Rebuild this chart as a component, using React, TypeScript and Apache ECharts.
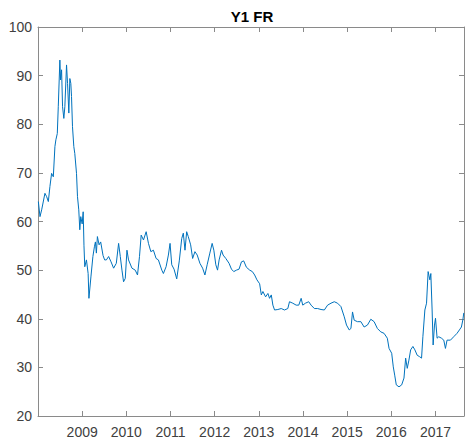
import React, { useEffect, useRef } from "react";
import * as echarts from "echarts";

const years = [
  2008.008, 2008.045, 2008.083, 2008.157, 2008.196, 2008.234, 2008.270, 2008.308, 2008.347, 2008.383,
  2008.405, 2008.437, 2008.459, 2008.495, 2008.511, 2008.534, 2008.556, 2008.585, 2008.608, 2008.646,
  2008.669, 2008.698, 2008.721, 2008.743, 2008.759, 2008.781, 2008.811, 2008.833, 2008.872, 2008.894,
  2008.923, 2008.946, 2008.968, 2009.000, 2009.023, 2009.041, 2009.059, 2009.097, 2009.135, 2009.153,
  2009.198, 2009.243, 2009.277, 2009.300, 2009.322, 2009.345, 2009.383, 2009.419, 2009.473, 2009.509,
  2009.548, 2009.599, 2009.654, 2009.712, 2009.773, 2009.825, 2009.863, 2009.901, 2009.937, 2009.976,
  2010.014, 2010.050, 2010.127, 2010.201, 2010.253, 2010.298, 2010.336, 2010.388, 2010.449, 2010.501,
  2010.555, 2010.613, 2010.674, 2010.726, 2010.803, 2010.839, 2010.900, 2010.952, 2010.990, 2011.028,
  2011.080, 2011.141, 2011.199, 2011.254, 2011.290, 2011.328, 2011.366, 2011.402, 2011.456, 2011.501,
  2011.553, 2011.605, 2011.666, 2011.727, 2011.779, 2011.830, 2011.891, 2011.943, 2011.981, 2012.026,
  2012.065, 2012.101, 2012.155, 2012.191, 2012.252, 2012.326, 2012.380, 2012.432, 2012.493, 2012.552,
  2012.606, 2012.657, 2012.718, 2012.793, 2012.853, 2012.905, 2012.957, 2013.018, 2013.056, 2013.092,
  2013.153, 2013.205, 2013.243, 2013.282, 2013.318, 2013.356, 2013.430, 2013.507, 2013.581, 2013.656,
  2013.694, 2013.768, 2013.845, 2013.904, 2013.958, 2013.994, 2014.055, 2014.129, 2014.183, 2014.257,
  2014.332, 2014.408, 2014.483, 2014.557, 2014.634, 2014.708, 2014.782, 2014.859, 2014.934, 2014.985,
  2015.046, 2015.085, 2015.121, 2015.159, 2015.233, 2015.310, 2015.384, 2015.459, 2015.535, 2015.610,
  2015.684, 2015.761, 2015.835, 2015.909, 2015.948, 2016.008, 2016.044, 2016.076, 2016.112, 2016.173,
  2016.234, 2016.286, 2016.324, 2016.360, 2016.398, 2016.437, 2016.488, 2016.533, 2016.585, 2016.639,
  2016.684, 2016.714, 2016.759, 2016.797, 2016.833, 2016.872, 2016.894, 2016.923, 2016.946, 2016.977,
  2017.000, 2017.036, 2017.074, 2017.135, 2017.187, 2017.225, 2017.261, 2017.338, 2017.412, 2017.487,
  2017.541, 2017.586, 2017.620, 2017.640,
];

const values = [
  64.1, 61.0, 62.4, 65.8, 65.1, 64.1, 67.2, 69.9, 69.2, 75.4,
  76.8, 78.1, 83.6, 93.2, 89.1, 91.2, 83.6, 81.2, 83.6, 92.2,
  88.4, 82.3, 89.4, 88.4, 85.7, 79.5, 75.4, 74.0, 69.9, 65.1,
  62.4, 58.3, 61.0, 59.5, 62.0, 55.0, 50.7, 52.1, 49.3, 44.2,
  48.6, 52.8, 54.8, 55.8, 53.5, 56.9, 55.2, 55.8, 53.0, 52.1,
  52.1, 52.8, 51.7, 50.4, 51.4, 55.5, 52.8, 50.0, 47.6, 48.3,
  54.1, 52.1, 50.4, 50.0, 49.0, 52.8, 57.2, 56.2, 57.9, 55.5,
  53.8, 54.1, 52.4, 52.1, 50.0, 49.3, 50.7, 53.1, 55.5, 51.1,
  50.2, 48.2, 51.9, 56.5, 57.6, 54.1, 57.9, 56.9, 55.2, 52.4,
  53.8, 53.1, 51.4, 50.4, 49.0, 51.1, 53.5, 55.5, 54.1, 51.1,
  50.0, 52.1, 54.1, 53.1, 52.4, 51.4, 50.2, 49.7, 50.0, 50.2,
  51.7, 51.9, 50.6, 50.0, 49.7, 49.0, 48.0, 47.2, 44.9, 45.6,
  44.5, 45.2, 44.2, 44.9, 42.8, 41.8, 41.9, 42.1, 41.8, 42.1,
  43.5, 43.2, 42.8, 42.8, 44.2, 42.8, 43.2, 43.5, 42.8, 42.1,
  42.1, 41.9, 41.8, 42.8, 43.2, 43.5, 43.2, 42.5, 40.4, 38.7,
  37.7, 38.0, 41.4, 39.7, 39.4, 39.4, 38.3, 38.7, 39.9, 39.4,
  38.0, 37.3, 37.0, 36.0, 33.9, 32.9, 30.1, 28.4, 26.4, 26.0,
  26.4, 27.8, 31.9, 29.8, 31.5, 33.6, 34.3, 33.6, 32.5, 32.2,
  31.9, 36.3, 41.8, 43.2, 49.7, 48.0, 49.3, 41.8, 34.6, 38.7,
  40.1, 36.0, 36.3, 36.0, 35.6, 33.9, 35.6, 35.6, 36.3, 37.0,
  37.7, 38.3, 39.8, 41.2,
];

const titleText = "Y1 FR";
const yearTicks = [2009, 2010, 2011, 2012, 2013, 2014, 2015, 2016, 2017];

export default function App() {
  const ref = useRef<HTMLDivElement>(null);
  useEffect(() => {
    document.body.style.margin = "0";
    if (!ref.current) return;
    const chart = echarts.init(ref.current, null, { renderer: "svg" });
    const font = "'Liberation Sans', Arial, Helvetica, sans-serif";
    const lineColor = "#8a8a8a";
    const labelColor = "#404040";
    const xCommon = {
      type: "value" as const,
      min: 2008,
      max: 2017.645,
      interval: 1,
      axisLine: { show: true, lineStyle: { color: lineColor, width: 1 } },
      axisTick: { show: true, inside: true, length: 5, lineStyle: { color: lineColor } },
      splitLine: { show: false },
    };
    const yCommon = {
      type: "value" as const,
      min: 20,
      max: 100,
      interval: 10,
      axisLine: { show: true, lineStyle: { color: lineColor, width: 1 } },
      axisTick: { show: true, inside: true, length: 5, lineStyle: { color: lineColor } },
      splitLine: { show: false },
    };
    chart.setOption({
      animation: false,
      backgroundColor: "#ffffff",
      textStyle: { fontFamily: font },
      grid: { left: 38, right: 1, top: 27, bottom: 29, containLabel: false },
      graphic: [
        {
          type: "text",
          x: 252,
          y: 16,
          style: {
            text: titleText,
            fontSize: 15,
            fontWeight: "bold",
            fontFamily: font,
            fill: "#000000",
            align: "center",
            verticalAlign: "middle",
          },
        },
      ],
      xAxis: [
        {
          ...xCommon,
          position: "bottom",
          axisLabel: {
            show: true,
            margin: 9,
            fontSize: 14,
            color: labelColor,
            fontFamily: font,
            formatter: (v: number) => (yearTicks.includes(v) ? String(v) : ""),
          },
        },
        {
          ...xCommon,
          position: "top",
          axisLabel: { show: false },
        },
      ],
      yAxis: [
        {
          ...yCommon,
          position: "left",
          axisLabel: { show: true, margin: 6, fontSize: 14, color: labelColor, fontFamily: font },
        },
        {
          ...yCommon,
          position: "right",
          axisLabel: { show: false },
        },
      ],
      series: [
        {
          type: "line",
          xAxisIndex: 0,
          yAxisIndex: 0,
          data: years.map((y, i) => [y, values[i]]),
          showSymbol: false,
          symbol: "none",
          lineStyle: { color: "#0072BD", width: 1 },
          clip: true,
        },
      ],
    });
    return () => chart.dispose();
  }, []);
  return <div ref={ref} style={{ width: 467, height: 445 }} />;
}
